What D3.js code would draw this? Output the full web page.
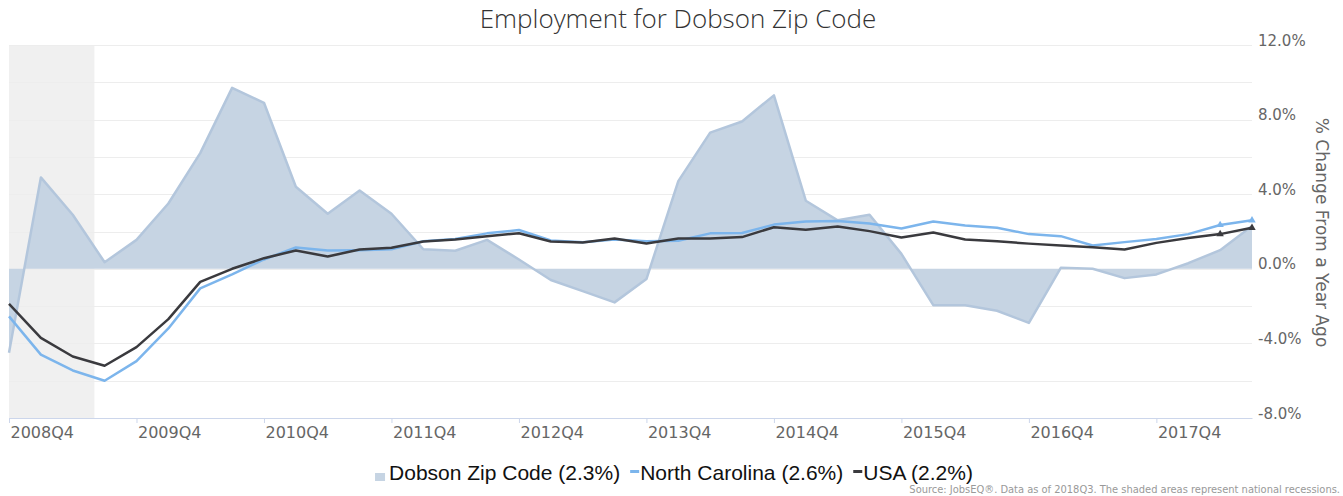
<!DOCTYPE html>
<html>
<head>
<meta charset="utf-8">
<script src="https://cdn.jsdelivr.net/npm/d3@7"></script>
<style>
  body { margin: 0; background: #fff; }
  svg { display: block; }
</style>
</head>
<body>
<div id="chart"></div>
<script>
// quarters shown on the chart
var quarters = ["2008Q4", "2009Q1", "2009Q2", "2009Q3", "2009Q4", "2010Q1", "2010Q2", "2010Q3",
  "2010Q4", "2011Q1", "2011Q2", "2011Q3", "2011Q4", "2012Q1", "2012Q2", "2012Q3",
  "2012Q4", "2013Q1", "2013Q2", "2013Q3", "2013Q4", "2014Q1", "2014Q2", "2014Q3",
  "2014Q4", "2015Q1", "2015Q2", "2015Q3", "2015Q4", "2016Q1", "2016Q2", "2016Q3",
  "2016Q4", "2017Q1", "2017Q2", "2017Q3", "2017Q4", "2018Q1", "2018Q2", "2018Q3"];

// % change from a year ago
var dobson = [-4.5, 4.9, 2.9, 0.35, 1.55, 3.5, 6.2, 9.7, 8.9, 4.4,
  2.95, 4.2, 2.95, 1.05, 0.97, 1.55, 0.5, -0.6, -1.2, -1.8,
  -0.55, 4.7, 7.3, 7.9, 9.3, 3.65, 2.6, 2.9, 0.8, -1.95,
  -1.95, -2.25, -2.9, 0.05, 0.0, -0.5, -0.3, 0.3, 1.0, 2.3];
var northCarolina = [-2.55, -4.6, -5.45, -6.0, -4.95, -3.2, -1.05, -0.3, 0.5, 1.14,
  0.98, 1.0, 1.05, 1.48, 1.6, 1.9, 2.08, 1.52, 1.43, 1.57,
  1.48, 1.5, 1.9, 1.92, 2.37, 2.54, 2.56, 2.43, 2.16, 2.54,
  2.32, 2.2, 1.86, 1.75, 1.25, 1.43, 1.6, 1.86, 2.35, 2.6];
var usa = [-1.88, -3.7, -4.7, -5.2, -4.2, -2.7, -0.7, 0.0, 0.57, 0.98,
  0.66, 1.03, 1.13, 1.46, 1.57, 1.75, 1.91, 1.46, 1.41, 1.62,
  1.36, 1.62, 1.62, 1.7, 2.23, 2.1, 2.27, 2.02, 1.68, 1.95,
  1.57, 1.48, 1.35, 1.25, 1.16, 1.03, 1.39, 1.65, 1.86, 2.2];

var seriesNames = ["Dobson Zip Code", "North Carolina", "USA"];
var xTickLabels = ["2008Q4", "2009Q4", "2010Q4", "2011Q4", "2012Q4", "2013Q4", "2014Q4", "2015Q4", "2016Q4", "2017Q4"];
var yTicks = [-8, -4, 0, 4, 8, 12];
var gridTicks = [-6, -4, -2, 0, 2, 4, 6, 8, 10, 12];
// national recession (Dec 2007 - Jun 2009), as decimal years
var recessions = [[2007.92, 2009.42]];
var markerQuarters = ["2018Q2", "2018Q3"];

var titleText = "Employment for Dobson Zip Code";
var axisTitle = "% Change From a Year Ago";
var sourceText = "Source: JobsEQ\u00ae. Data as of 2018Q3. The shaded areas represent national recessions.";

// "2009Q4" -> 2009.75
function parseQ(s) { return +s.slice(0, 4) + (+s.slice(5) - 1) / 4; }
function pct(v) { return v.toFixed(1) + "%"; }

var W = 1343, H = 496;
var margin = { top: 45, right: 91, bottom: 78, left: 9 },
  width = W - margin.left - margin.right,
  height = H - margin.top - margin.bottom;

var svg = d3.select("#chart").append("svg")
  .attr("width", W).attr("height", H);

var g = svg.append("g")
  .attr("transform", "translate(" + margin.left + "," + margin.top + ")");

var x = d3.scaleLinear()
  .domain([parseQ(quarters[0]), parseQ(quarters[quarters.length - 1])])
  .range([0, width]);
var y = d3.scaleLinear().domain([-8, 12]).range([height, 0]);

// recession bands
recessions.forEach(function (r) {
  var x0 = Math.max(x(r[0]), 0), x1 = Math.min(x(r[1]), width);
  g.append("rect")
    .attr("x", x0).attr("y", 0)
    .attr("width", x1 - x0).attr("height", height)
    .attr("fill", "#f0f0f0");
});

// gridlines
g.append("g").selectAll("line")
  .data(gridTicks).enter().append("line")
  .attr("x1", 0).attr("x2", width)
  .attr("y1", function (d) { return Math.round(y(d)) + 0.5; })
  .attr("y2", function (d) { return Math.round(y(d)) + 0.5; })
  .attr("stroke", "#ededed").attr("stroke-width", 1);

var pts = function (arr) {
  return arr.map(function (v, i) { return { t: parseQ(quarters[i]), v: v, q: quarters[i] }; });
};

// area series
var area = d3.area()
  .x(function (d) { return x(d.t); })
  .y0(y(0))
  .y1(function (d) { return y(d.v); });
var line = d3.line()
  .x(function (d) { return x(d.t); })
  .y(function (d) { return y(d.v); });

g.append("path")
  .datum(pts(dobson))
  .attr("d", area)
  .attr("fill", "#c6d4e3");
g.append("path")
  .datum(pts(dobson))
  .attr("d", line)
  .attr("fill", "none")
  .attr("stroke", "#b3c6dc")
  .attr("stroke-width", 2.5)
  .attr("stroke-linejoin", "round");

// line series
var lineSeries = [
  { data: northCarolina, color: "#7cb5ec" },
  { data: usa, color: "#3a3a3e" }
];
lineSeries.forEach(function (s) {
  var p = pts(s.data);
  g.append("path")
    .datum(p)
    .attr("d", line)
    .attr("fill", "none")
    .attr("stroke", s.color)
    .attr("stroke-width", 2.5)
    .attr("stroke-linejoin", "round");
  g.selectAll(null)
    .data(p.filter(function (d) { return markerQuarters.indexOf(d.q) >= 0; }))
    .enter().append("path")
    .attr("d", d3.symbol().type(d3.symbolTriangle).size(24))
    .attr("transform", function (d) { return "translate(" + x(d.t) + "," + y(d.v) + ")"; })
    .attr("fill", s.color);
});

// x axis
var xAxis = g.append("g")
  .attr("transform", "translate(0," + height + ")")
  .call(d3.axisBottom(x)
    .tickValues(xTickLabels.map(parseQ))
    .tickFormat(function (d, i) { return xTickLabels[i]; })
    .tickSize(5)
    .tickSizeOuter(0));
xAxis.select(".domain").attr("stroke", "#ccd6eb");
xAxis.selectAll(".tick line").attr("stroke", "#ccd6eb");
xAxis.selectAll(".tick text")
  .attr("text-anchor", "start")
  .attr("x", 1)
  .attr("y", 20)
  .attr("dy", null)
  .attr("fill", "#666")
  .style("font-family", "'DejaVu Sans', sans-serif")
  .style("font-size", "16px");

// y axis labels on the right
g.append("g").selectAll("text")
  .data(yTicks).enter().append("text")
  .attr("x", width + 6)
  .attr("y", function (d) { return y(d) + 0.5; })
  .attr("fill", "#666")
  .style("font-family", "'DejaVu Sans', sans-serif")
  .style("font-size", "15px")
  .text(pct);

svg.append("text")
  .attr("transform", "translate(1316," + (margin.top + height / 2 + 1) + ") rotate(90)")
  .attr("text-anchor", "middle")
  .attr("fill", "#666")
  .style("font-family", "'DejaVu Sans', sans-serif")
  .style("font-size", "17px")
  .text(axisTitle);

// title
svg.append("text")
  .attr("x", 678).attr("y", 28)
  .attr("text-anchor", "middle")
  .attr("fill", "#333")
  .style("font-family", "'Open Sans', sans-serif")
  .style("font-weight", 300)
  .style("font-size", "26px")
  .text(titleText);

// legend
var legendData = [
  { name: seriesNames[0], last: dobson[dobson.length - 1], color: "#c6d4e3", type: "area" },
  { name: seriesNames[1], last: northCarolina[northCarolina.length - 1], color: "#7cb5ec", type: "line" },
  { name: seriesNames[2], last: usa[usa.length - 1], color: "#3a3a3e", type: "line" }
];
var legend = svg.append("g");
var cursor = 0, baseY = 480;
legendData.forEach(function (d, i) {
  var item = legend.append("g").attr("transform", "translate(" + cursor + ",0)");
  if (d.type === "area") {
    item.append("rect").attr("x", 0).attr("y", baseY - 7).attr("width", 10).attr("height", 8).attr("fill", d.color);
  } else {
    item.append("rect").attr("x", 0).attr("y", baseY - 10).attr("width", 9).attr("height", 3).attr("fill", d.color);
  }
  var t = item.append("text")
    .attr("x", d.type === "area" ? 14 : 10)
    .attr("y", baseY)
    .attr("fill", "#111")
    .style("font-family", "'Liberation Sans', Arial, sans-serif")
    .style("font-size", "21px")
    .text(d.name + " (" + pct(d.last) + ")");
  cursor += (d.type === "area" ? 14 : 10) + t.node().getComputedTextLength() + 10;
});
legend.attr("transform", "translate(" + (674 - (cursor - 10) / 2) + ",0)");

// source note
svg.append("text")
  .attr("x", 1340).attr("y", 493)
  .attr("text-anchor", "end")
  .attr("fill", "#999")
  .style("font-family", "'Liberation Sans Narrow', 'DejaVu Sans Condensed', sans-serif")
  .style("font-size", "11px")
  .text(sourceText);
</script>
</body>
</html>
